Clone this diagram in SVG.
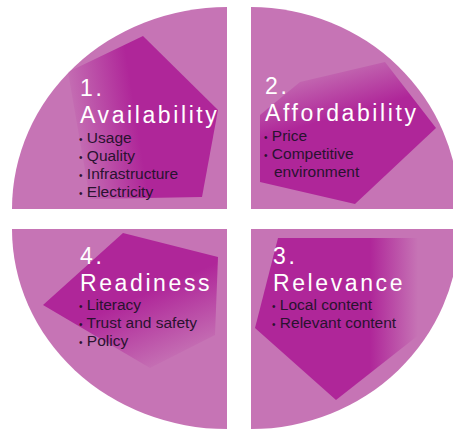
<svg xmlns="http://www.w3.org/2000/svg" width="453" height="433" viewBox="0 0 453 433">
<style>
.q{fill:#C674B5}
.t{font-family:"Liberation Sans","Arial",sans-serif;font-size:23px;fill:#ffffff;letter-spacing:2.6px}
.b{font-family:"Liberation Sans","Arial",sans-serif;font-size:15.5px;fill:#2a1230}
.d{font-size:10px}
</style>
<defs>
<linearGradient id="gTL" gradientUnits="userSpaceOnUse" x1="72" y1="120" x2="135" y2="110">
<stop offset="0" stop-color="#AF2699" stop-opacity="0.05"/>
<stop offset="1" stop-color="#AF2699" stop-opacity="1"/>
</linearGradient>
<linearGradient id="gTR" gradientUnits="userSpaceOnUse" x1="330" y1="62" x2="345" y2="115">
<stop offset="0" stop-color="#AF2699" stop-opacity="0"/>
<stop offset="1" stop-color="#AF2699" stop-opacity="1"/>
</linearGradient>
<linearGradient id="gBL" gradientUnits="userSpaceOnUse" x1="130" y1="300" x2="160" y2="370">
<stop offset="0" stop-color="#AF2699" stop-opacity="1"/>
<stop offset="1" stop-color="#AF2699" stop-opacity="0"/>
</linearGradient>
<linearGradient id="gBR" gradientUnits="userSpaceOnUse" x1="370" y1="0" x2="418" y2="0">
<stop offset="0" stop-color="#AF2699" stop-opacity="1"/>
<stop offset="1" stop-color="#AF2699" stop-opacity="0"/>
</linearGradient>
</defs>
<rect width="453" height="433" fill="#ffffff"/>

<g id="availability">
<path class="q" d="M227,209 L12,209 A215,202 0 0 1 227,7 Z"/>
<polygon fill="url(#gTL)" points="143,36 218,110 202,197 90,199 68,72"/>
<text class="t" x="80" y="96">1.</text>
<text class="t" x="80" y="123">Availability</text>
<text class="b" x="79" y="143"><tspan class="d">•</tspan> Usage</text>
<text class="b" x="79" y="161"><tspan class="d">•</tspan> Quality</text>
<text class="b" x="79" y="179"><tspan class="d">•</tspan> Infrastructure</text>
<text class="b" x="79" y="197"><tspan class="d">•</tspan> Electricity</text>
</g>

<g id="affordability">
<path class="q" d="M251,209 L251,7 A208,202 0 0 1 459,209 Z"/>
<polygon fill="url(#gTR)" points="260,115 260,182 355,204 436,128 385,62 300,82"/>
<text class="t" x="265" y="94">2.</text>
<text class="t" x="265" y="121">Affordability</text>
<text class="b" x="264" y="141"><tspan class="d">•</tspan> Price</text>
<text class="b" x="264" y="159"><tspan class="d">•</tspan> Competitive</text>
<text class="b" x="274" y="177">environment</text>
</g>

<g id="readiness">
<path class="q" d="M227,229 L12,229 A215,200 0 0 0 227,429 Z"/>
<polygon fill="url(#gBL)" points="123,233 218,257 215,335 150,368 43,305"/>
<text class="t" x="80" y="264">4.</text>
<text class="t" x="80" y="291">Readiness</text>
<text class="b" x="79" y="310"><tspan class="d">•</tspan> Literacy</text>
<text class="b" x="79" y="328"><tspan class="d">•</tspan> Trust and safety</text>
<text class="b" x="79" y="346"><tspan class="d">•</tspan> Policy</text>
</g>

<g id="relevance">
<path class="q" d="M251,229 L251,429 A208,200 0 0 0 459,229 Z"/>
<polygon fill="url(#gBR)" points="278,238 425,238 425,330 336,400 255,328"/>
<text class="t" x="273" y="264">3.</text>
<text class="t" x="273" y="291">Relevance</text>
<text class="b" x="272" y="310"><tspan class="d">•</tspan> Local content</text>
<text class="b" x="272" y="328"><tspan class="d">•</tspan> Relevant content</text>
</g>
</svg>
